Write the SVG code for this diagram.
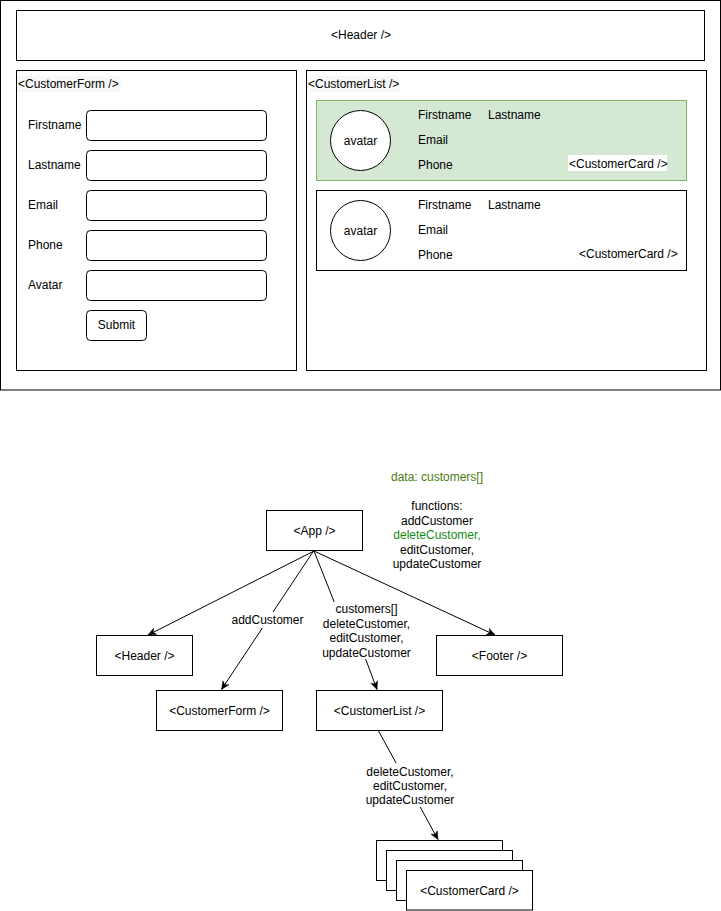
<svg xmlns="http://www.w3.org/2000/svg" width="721" height="911" viewBox="0 0 721 911">
<defs>
<style>
text{font-family:"Liberation Sans",Arial,Helvetica,sans-serif;font-size:12px;fill:#000}
.c{text-anchor:middle}
.box{fill:#fff;stroke:#000;stroke-width:1}
.inp{fill:#fff;stroke:#000;stroke-width:1}
.edge{fill:none;stroke:#000;stroke-width:1}
.lbl{fill:#fff}
</style>
<marker id="arr" viewBox="0 0 10 10" refX="9.5" refY="5" markerWidth="9" markerHeight="9" markerUnits="userSpaceOnUse" orient="auto">
<path d="M0.5,1 L9.5,5 L0.5,9 L3,5 z" fill="#000" stroke="#000" stroke-width="0.5"/>
</marker>
</defs>
<rect width="721" height="911" fill="#fff"/>

<g id="mockup">
<rect class="box" x="0.5" y="0.5" width="720" height="389.5"/>
<g id="m-header">
<rect class="box" x="16.5" y="10.5" width="688" height="50"/>
<text class="c" x="361" y="39">&lt;Header /&gt;</text>
</g>
<g id="m-form">
<rect class="box" x="16.5" y="70.5" width="280" height="300"/>
<rect x="17" y="76" width="104" height="16" fill="#f8f8f8"/>
<text x="18" y="88">&lt;CustomerForm /&gt;</text>
<text x="28" y="129">Firstname</text>
<text x="28" y="169">Lastname</text>
<text x="28" y="209">Email</text>
<text x="28" y="249">Phone</text>
<text x="28" y="289">Avatar</text>
<rect class="inp" x="86.5" y="110.5" width="180" height="30" rx="4"/>
<rect class="inp" x="86.5" y="150.5" width="180" height="30" rx="4"/>
<rect class="inp" x="86.5" y="190.5" width="180" height="30" rx="4"/>
<rect class="inp" x="86.5" y="230.5" width="180" height="30" rx="4"/>
<rect class="inp" x="86.5" y="270.5" width="180" height="30" rx="4"/>
<rect class="inp" x="86.5" y="310.5" width="60" height="30" rx="4"/>
<text class="c" x="116.5" y="329">Submit</text>
</g>
<g id="m-list">
<rect class="box" x="306.5" y="70.5" width="400" height="300"/>
<rect x="307" y="76" width="92" height="16" fill="#f8f8f8"/>
<text x="308" y="88">&lt;CustomerList /&gt;</text>
</g>
<g id="m-card1">
<rect x="316.5" y="100.5" width="370" height="80" fill="#d5e8d4" stroke="#82b366"/>
<circle cx="360.5" cy="140.5" r="30" fill="#fff" stroke="#000"/>
<text class="c" x="360.5" y="144.5">avatar</text>
<text x="418" y="118.5">Firstname</text>
<text x="488" y="118.5">Lastname</text>
<text x="418" y="143.5">Email</text>
<text x="418" y="168.5">Phone</text>
<rect x="568" y="155" width="99" height="16" fill="#fff"/>
<text x="569" y="167.5">&lt;CustomerCard /&gt;</text>
</g>
<g id="m-card2">
<rect class="box" x="316.5" y="190.5" width="370" height="80"/>
<circle cx="360.5" cy="230.5" r="30" fill="#fff" stroke="#000"/>
<text class="c" x="360.5" y="234.5">avatar</text>
<text x="418" y="208.5">Firstname</text>
<text x="488" y="208.5">Lastname</text>
<text x="418" y="233.5">Email</text>
<text x="418" y="258.5">Phone</text>
<text x="579" y="257.5">&lt;CustomerCard /&gt;</text>
</g>
</g>

<g id="notes">
<text class="c" x="437" y="481" fill="#4a7c12" style="fill:#4a7c12">data: customers[]</text>
<text class="c" x="437" y="510">functions:</text>
<text class="c" x="437" y="524.5">addCustomer</text>
<text class="c" x="437" y="539" style="fill:#138a13">deleteCustomer,</text>
<text class="c" x="437" y="553.5">editCustomer,</text>
<text class="c" x="437" y="568">updateCustomer</text>
</g>

<g id="connectors">
<line class="edge" x1="314" y1="551" x2="148" y2="635" marker-end="url(#arr)"/>
<line class="edge" x1="314" y1="551" x2="495" y2="635" marker-end="url(#arr)"/>
<line class="edge" x1="313.5" y1="551" x2="221.5" y2="689.5" marker-end="url(#arr)"/>
<polyline class="edge" points="314,551 339,614 366,660 377,689.5" marker-end="url(#arr)"/>
<line class="edge" x1="378" y1="730" x2="438" y2="839.5" marker-end="url(#arr)"/>
<rect class="lbl" x="230" y="612" width="74" height="16"/>
<text class="c" x="267.5" y="624">addCustomer</text>
<rect class="lbl" x="321" y="602" width="91" height="57"/>
<text class="c" x="366.5" y="613">customers[]</text>
<text class="c" x="366.5" y="627.5">deleteCustomer,</text>
<text class="c" x="366.5" y="642">editCustomer,</text>
<text class="c" x="366.5" y="656.5">updateCustomer</text>
<rect class="lbl" x="364" y="763" width="92" height="44"/>
<text class="c" x="410" y="776">deleteCustomer,</text>
<text class="c" x="410" y="790">editCustomer,</text>
<text class="c" x="410" y="804">updateCustomer</text>
</g>

<g id="app">
<rect class="box" x="266.5" y="510.5" width="96" height="40"/>
<text class="c" x="314.5" y="535">&lt;App /&gt;</text>
</g>
<g id="header">
<rect class="box" x="96.5" y="635.5" width="96" height="40"/>
<text class="c" x="144.5" y="660">&lt;Header /&gt;</text>
</g>
<g id="footer">
<rect class="box" x="436.5" y="635.5" width="126" height="40"/>
<text class="c" x="499.5" y="660">&lt;Footer /&gt;</text>
</g>
<g id="customerform">
<rect class="box" x="156.5" y="690.5" width="126" height="40"/>
<text class="c" x="219.5" y="715">&lt;CustomerForm /&gt;</text>
</g>
<g id="customerlist">
<rect class="box" x="316.5" y="690.5" width="126" height="40"/>
<text class="c" x="379.5" y="715">&lt;CustomerList /&gt;</text>
</g>
<g id="customercards">
<rect class="box" x="376.5" y="840.5" width="126" height="40"/>
<rect class="box" x="386.5" y="850.5" width="126" height="40"/>
<rect class="box" x="396.5" y="860.5" width="126" height="40"/>
<rect class="box" x="406.5" y="870.5" width="126" height="39.5"/>
<text class="c" x="469.5" y="894.5">&lt;CustomerCard /&gt;</text>
</g>
</svg>
